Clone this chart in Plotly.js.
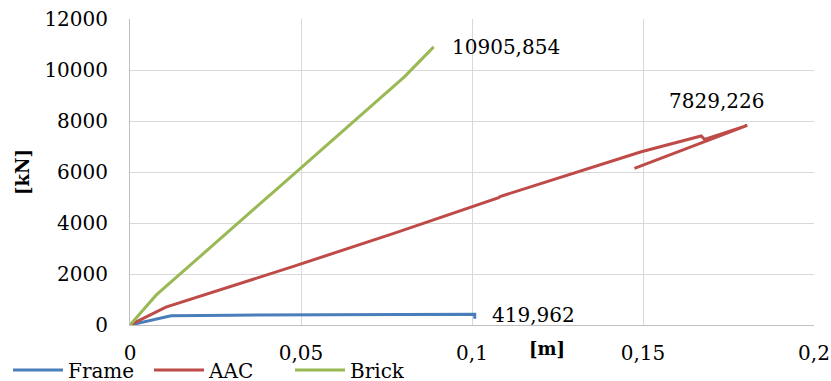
<!DOCTYPE html>
<html>
<head>
<meta charset="utf-8">
<script src="https://cdn.plot.ly/plotly-3.0.1.min.js"></script>
<style>html,body{margin:0;padding:0;background:#fff;}#chart{width:831px;height:381px;}</style>
</head>
<body>
<div id="chart"></div>
<script>
// Displacement [m] / force [kN]
var seriesNames = ["Frame", "AAC", "Brick"];
var frameX = [0, 0.006, 0.012, 0.03, 0.05, 0.07, 0.09, 0.1, 0.1008, 0.1008];
var frameY = [0, 190, 360, 385, 395, 405, 414, 419.962, 419.962, 250];
var aacX = [0, 0.0055, 0.0105, 0.0478, 0.0778, 0.1078, 0.1082, 0.1495, 0.158, 0.167, 0.168, 0.1805, 0.1475];
var aacY = [0, 360, 700, 2300, 3620, 4990, 5040, 6796, 7110, 7412, 7282, 7829.226, 6145];
var brickX = [0, 0.0077, 0.0485, 0.0799, 0.0794, 0.0803, 0.0888];
var brickY = [0, 1180, 5990, 9700, 9620, 9740, 10905.854];
var peakLabels = ["419,962", "7829,226", "10905,854"];
var xTickVals = [0, 0.05, 0.1, 0.15, 0.2];
var xTickText = ["0", "0,05", "0,1", "0,15", "0,2"];
var yTickVals = [0, 2000, 4000, 6000, 8000, 10000, 12000];
var yTickText = ["0", "2000", "4000", "6000", "8000", "10000", "12000"];
var xTitle = "[m]";
var yTitle = "[kN]";

var colors = ["#4a7ebb", "#be4b48", "#98b954"];
var font = "DejaVu Serif";

var xs = [frameX, aacX, brickX];
var ys = [frameY, aacY, brickY];
var traces = seriesNames.map(function (n, i) {
  return {x: xs[i], y: ys[i], name: n, type: "scatter", mode: "lines",
          line: {color: colors[i], width: 3}, hoverinfo: "skip"};
});

function lastMax(xArr, yArr) {
  var k = 0;
  for (var i = 0; i < yArr.length; i++) if (yArr[i] > yArr[k]) k = i;
  return [xArr[k], yArr[k]];
}
var pf = lastMax(frameX, frameY);
var pa = lastMax(aacX, aacY);
var pb = lastMax(brickX, brickY);

var annotations = [
  {x: frameX[frameX.length - 2], y: pf[1], xref: "x", yref: "y", text: peakLabels[0], showarrow: false,
   xanchor: "left", yanchor: "middle", xshift: 15, yshift: -1, font: {family: font, size: 20, color: "#000"}},
  {x: pa[0], y: pa[1], xref: "x", yref: "y", text: peakLabels[1], showarrow: false,
   xanchor: "center", yanchor: "middle", xshift: -31, yshift: 24, font: {family: font, size: 20, color: "#000"}},
  {x: pb[0], y: pb[1], xref: "x", yref: "y", text: peakLabels[2], showarrow: false,
   xanchor: "left", yanchor: "middle", xshift: 16, yshift: 0, font: {family: font, size: 20, color: "#000"}},
  {x: (547 - 130) / 684, y: (325 - 348) / 306, xref: "paper", yref: "paper", text: "<b>" + xTitle + "</b>", showarrow: false,
   xanchor: "center", yanchor: "middle", font: {family: font, size: 18, color: "#000"}},
  {x: (22 - 130) / 684, y: (325 - 172) / 306, xref: "paper", yref: "paper", text: "<b>" + yTitle + "</b>", showarrow: false,
   textangle: -90, xanchor: "center", yanchor: "middle", font: {family: font, size: 18, color: "#000"}}
];

var layout = {
  width: 831, height: 381,
  font: {family: font},
  margin: {l: 130, r: 17, t: 19, b: 56, pad: 0, autoexpand: false},
  paper_bgcolor: "#fff", plot_bgcolor: "#fff",
  showlegend: true,
  legend: {orientation: "h", x: (8 - 130) / 684, xanchor: "left", y: (325 - 370) / 306, yanchor: "middle",
           font: {family: font, size: 20, color: "#000"}, itemwidth: 50, bgcolor: "rgba(0,0,0,0)",
           entrywidth: 76, entrywidthmode: "pixels", tracegroupgap: 0},
  xaxis: {range: [0, 0.2], tickvals: xTickVals, ticktext: xTickText, showgrid: true, gridcolor: "#d9d9d9",
          gridwidth: 1, zeroline: false, showline: true, linecolor: "#bfbfbf", linewidth: 1, ticks: "",
          ticklabelstandoff: 10, tickfont: {family: font, size: 20, color: "#000"}, fixedrange: true},
  yaxis: {range: [0, 12000], tickvals: yTickVals, ticktext: yTickText, showgrid: true, gridcolor: "#d9d9d9",
          gridwidth: 1, zeroline: false, showline: true, linecolor: "#bfbfbf", linewidth: 1, ticks: "",
          ticklabelstandoff: 17, tickfont: {family: font, size: 20, color: "#000"}, fixedrange: true},
  annotations: annotations
};

Plotly.newPlot("chart", traces, layout, {displayModeBar: false, staticPlot: true});
</script>
</body>
</html>
